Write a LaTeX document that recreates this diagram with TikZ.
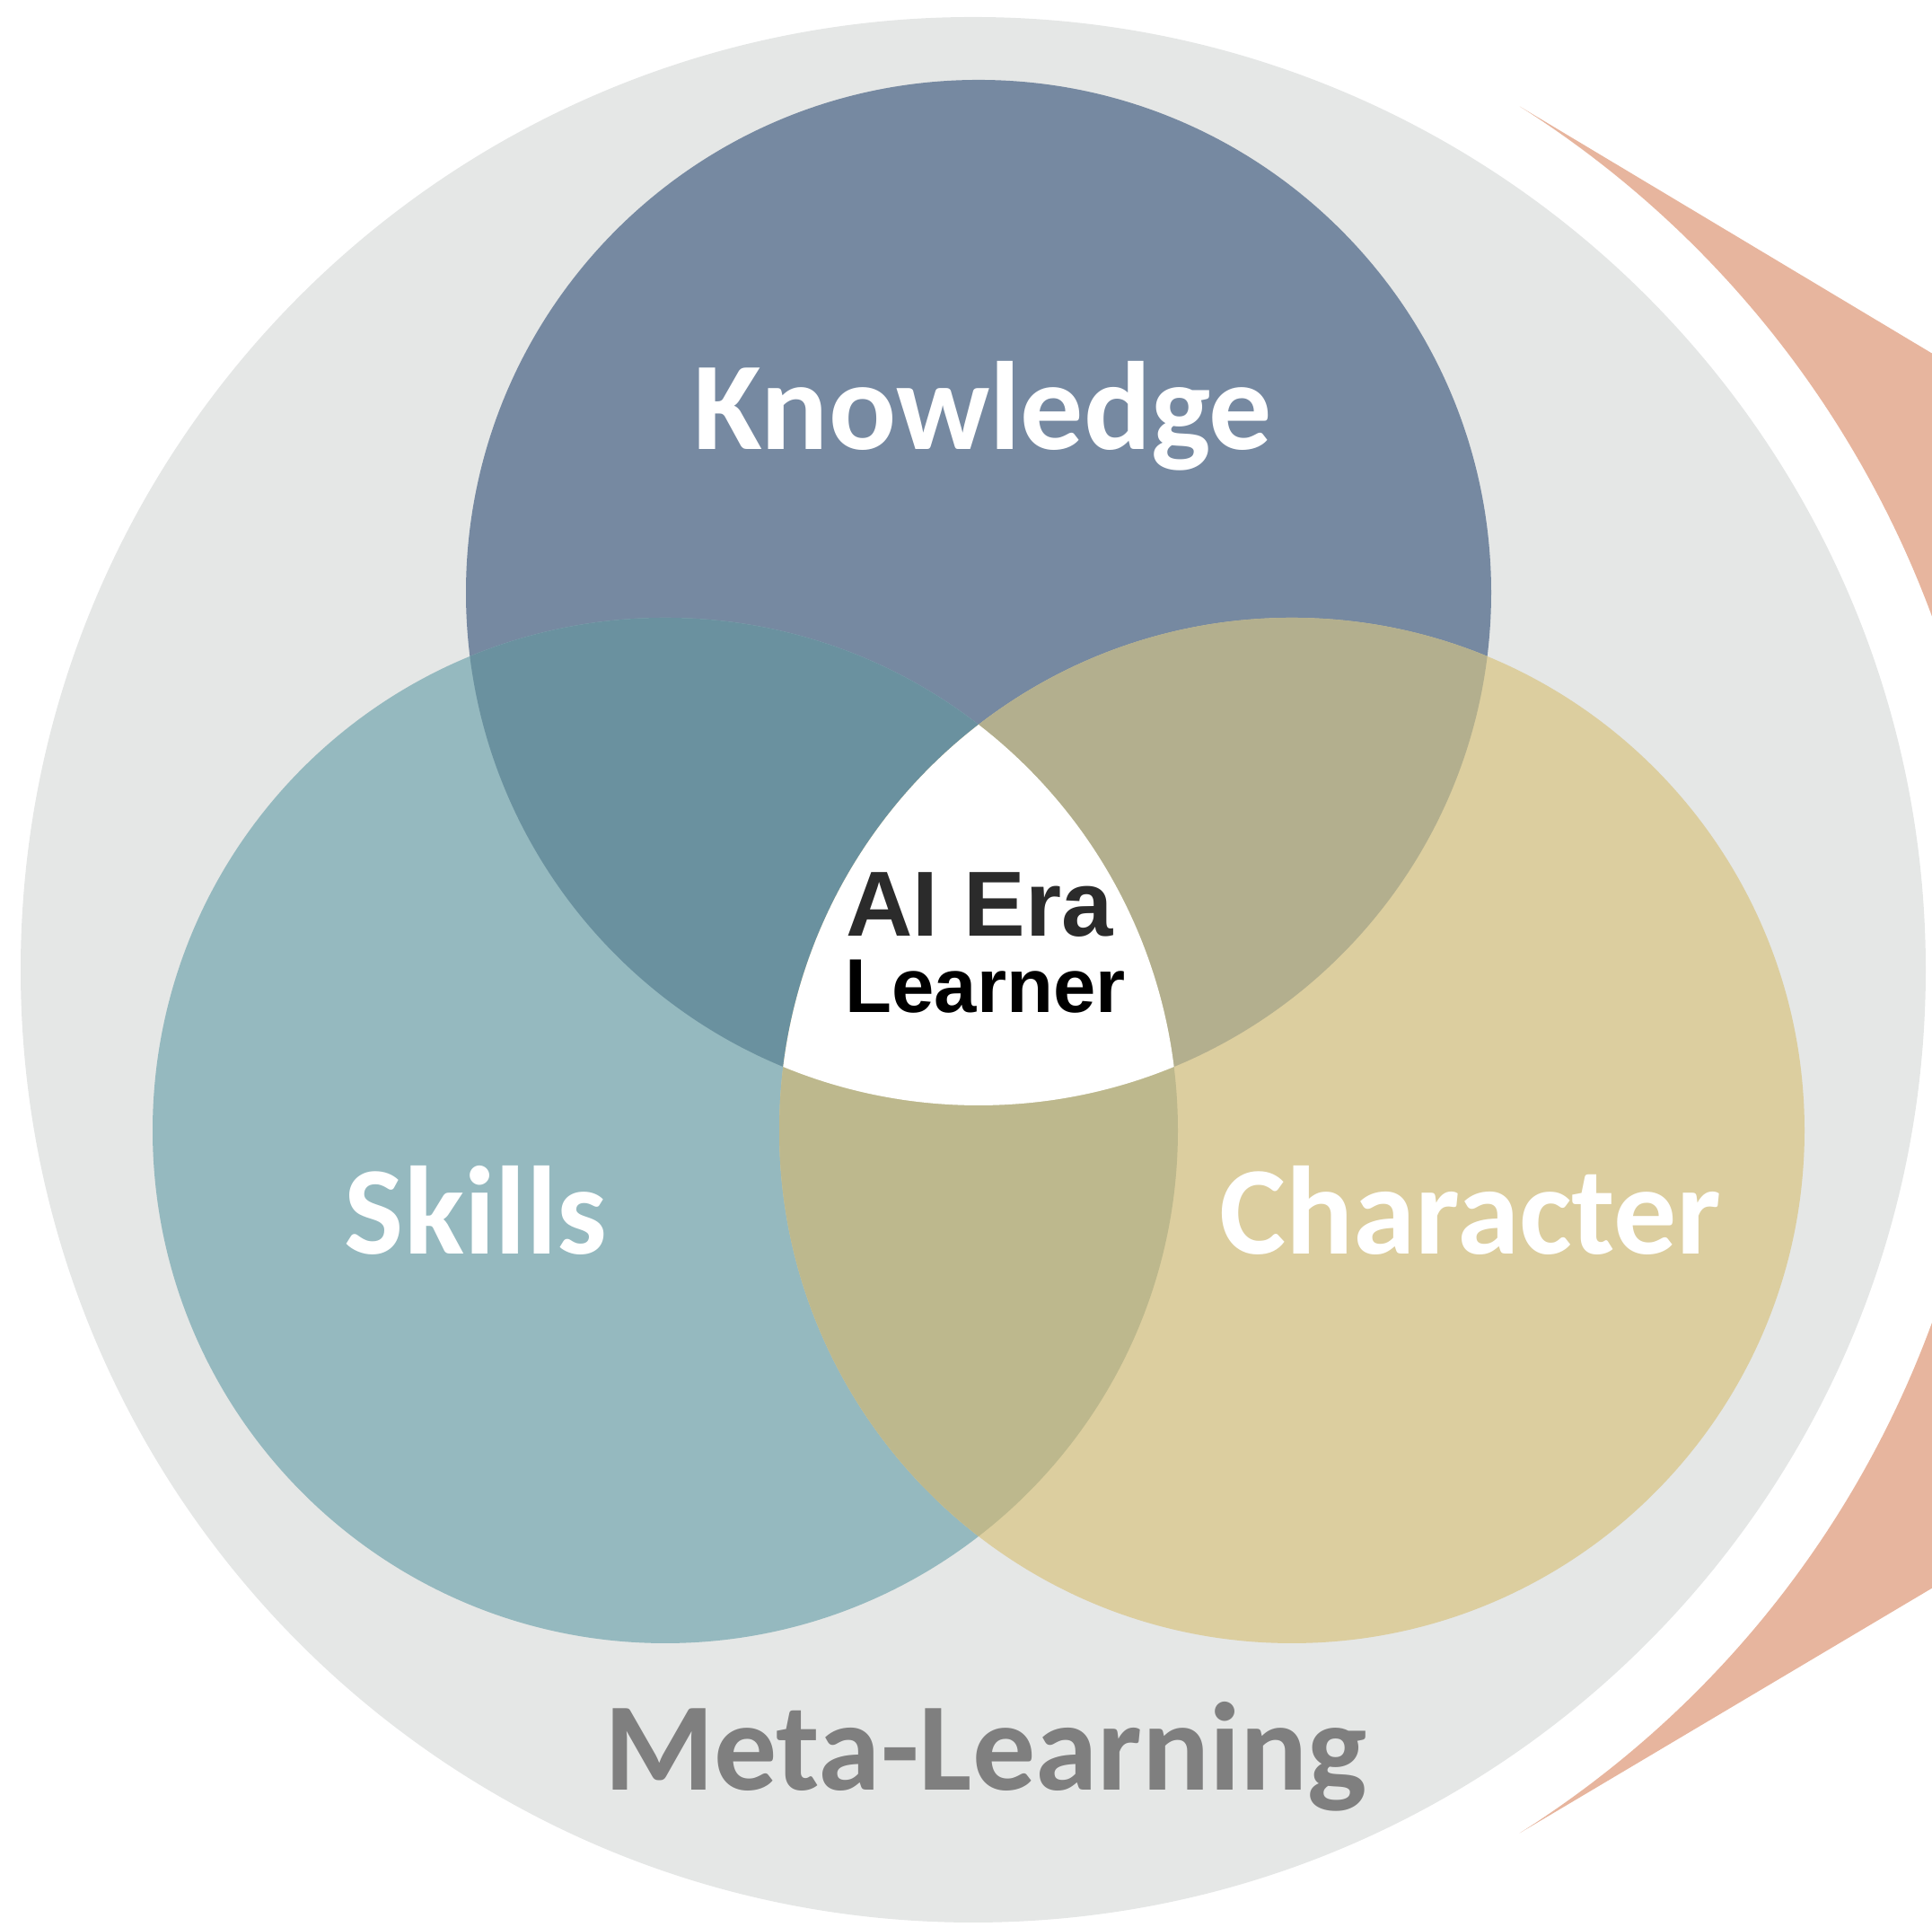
\documentclass[tikz,border=0pt]{standalone}
\usepackage{fontspec}
\setmainfont{Carlito}
\newfontfamily\arialfont{Liberation Sans}
\usepackage{tikz}
\usetikzlibrary{calc}
\definecolor{ringgray}{HTML}{E5E7E6}
\definecolor{arroworange}{HTML}{E7B59E}
\definecolor{knowblue}{HTML}{7689A1}
\definecolor{skillteal}{HTML}{95B9BF}
\definecolor{charsand}{HTML}{DCCE9F}
\definecolor{ksmix}{HTML}{6A919F}
\definecolor{kcmix}{HTML}{B3AF8E}
\definecolor{scmix}{HTML}{BDB88D}
\definecolor{metagray}{HTML}{7F7F7F}
\definecolor{eradark}{HTML}{2B2B2B}
\tikzstyle{venn} = [circle, inner sep=0pt, outer sep=0pt, minimum size=11.42cm]
\tikzstyle{bigword} = [font=\bfseries\fontsize{39.8}{45}\selectfont, text=white, anchor=base, inner sep=0pt]
\tikzstyle{coreword} = [anchor=base, inner sep=0pt]

\begin{document}
\begin{tikzpicture}
    \useasboundingbox (0,0) rectangle (21.52,21.46);
    \clip (0,0) rectangle (21.52,21.46);
    \coordinate (mid) at (10.84,10.66);
    \fill[ringgray] (mid) circle (10.61);
    \coordinate (tipa) at ($(mid)+(57.66:11.38)$);
    \coordinate (tipb) at ($(mid)+(-57.66:11.38)$);
    \coordinate (apex) at (33.05,10.62);
    \fill[arroworange] (tipa) -- (apex) -- (tipb) arc[start angle=-57.66, end angle=57.66, radius=11.38] -- cycle;
    \node (know) [venn, fill=knowblue] at (10.90,14.86) {};
    \node (skill) [venn, fill=skillteal] at (7.41,8.87) {};
    \node (char) [venn, fill=charsand] at (14.39,8.87) {};
    \begin{scope}
        \clip (know.center) circle (5.71);
        \fill[ksmix] (skill.center) circle (5.71);
        \fill[kcmix] (char.center) circle (5.71);
    \end{scope}
    \begin{scope}
        \clip (skill.center) circle (5.71);
        \fill[scmix] (char.center) circle (5.71);
        \clip (know.center) circle (5.71);
        \fill[white] (char.center) circle (5.71);
    \end{scope}
    \node (knowtext) [bigword] at (10.95,16.45) {Knowledge};
    \node (skilltext) [bigword] at (5.30,7.49) {Skills};
    \node (chartext) [bigword] at (16.38,7.49) {Character};
    \node (metatext) [bigword, text=metagray] at (10.98,1.52) {Meta-Learning};
    \node (era) [coreword, text=eradark, font=\arialfont\bfseries\fontsize{29.3}{34}\selectfont] at (10.91,11.03) {AI Era};
    \node (learner) [coreword, text=black, font=\arialfont\bfseries\fontsize{24.2}{28}\selectfont] at (10.975,10.18) {Learner};
\end{tikzpicture}
\end{document}
